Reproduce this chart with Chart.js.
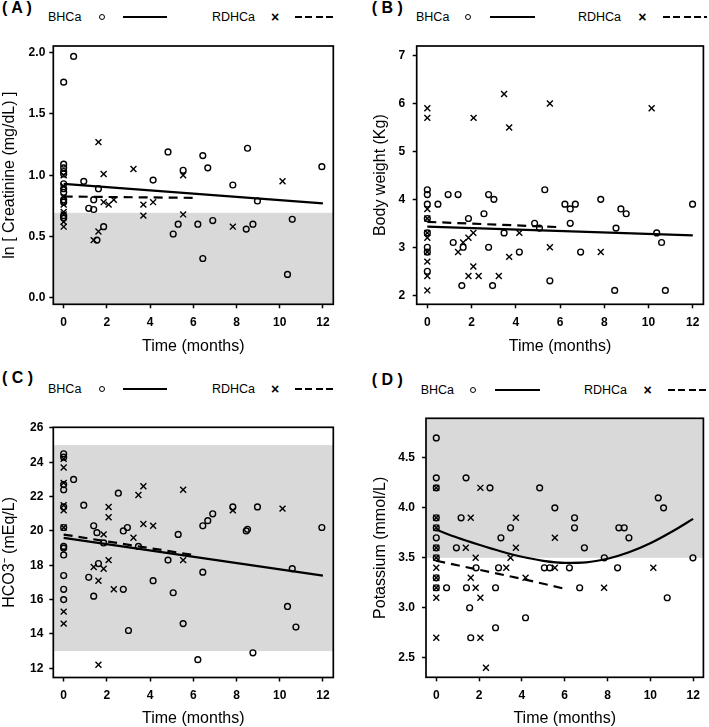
<!DOCTYPE html>
<html><head><meta charset="utf-8">
<script src="https://cdn.jsdelivr.net/npm/chart.js@4.4.0/dist/chart.umd.min.js"></script>
<style>
html,body{margin:0;padding:0;background:#fff;width:709px;height:727px;overflow:hidden;position:relative;font-family:"Liberation Sans",Arial,sans-serif;color:#000;}
canvas{position:absolute;}
.lab{position:absolute;font-weight:bold;font-size:16px;line-height:1;transform:translateY(-50%);white-space:pre;}
.lt{position:absolute;font-size:12.5px;line-height:1;transform:translateY(-50%);white-space:pre;}
.circ{position:absolute;width:4px;height:4px;border:1.6px solid #000;border-radius:50%;transform:translate(-50%,-50%);}
.cross{position:absolute;font-size:14px;font-weight:bold;line-height:1;transform:translate(-50%,-50%);}
.sl{position:absolute;height:2px;background:#000;transform:translateY(-50%);}
.dl{position:absolute;height:2px;transform:translateY(-50%);background:repeating-linear-gradient(90deg,#000 0 7px,transparent 7px 10.33px);}
</style></head><body>
<script>
// ---------- shared ----------
const xTicks = [0, 2, 4, 6, 8, 10, 12];

// ---------- Panel A : ln[Creatinine] ----------
const aYTicks = [0.0, 0.5, 1.0, 1.5, 2.0];
const aBhcaX = [0,0,0,0,0,0,0,0,0,0,0,0, 0.46,0.93,1.16,1.39,1.39,1.61,1.54,1.85,4.14,4.83,5.07,5.30,5.53,6.21,6.44,6.44,6.67,6.90,7.83,8.45,8.51,8.76,8.97,10.36,10.58,11.95];
const aBhcaY = [1.76,1.09,1.06,1.03,1.01,0.93,0.89,0.86,0.80,0.78,0.67,0.65, 1.97,0.95,0.73,0.72,0.80,0.89,0.47,0.58,0.96,1.19,0.52,0.60,1.04,0.60,1.16,0.32,1.06,0.63,0.92,0.56,1.22,0.60,0.79,0.19,0.64,1.07];
const aRdhcaX = [0,0,0,0,0,0,0,0, 1.61,1.85,3.23,5.53,10.13,1.85,2.08,2.32,3.69,4.14,3.69,5.53,7.83,1.39,1.61];
const aRdhcaY = [1.00,0.91,0.82,0.76,0.70,0.68,0.62,0.58, 1.27,1.01,1.05,1.00,0.95,0.78,0.76,0.80,0.76,0.78,0.67,0.68,0.58,0.47,0.54];
const aFitBhcaX = [0, 12];  const aFitBhcaY = [0.93, 0.77];
const aFitRdhcaX = [0, 6];  const aFitRdhcaY = [0.826, 0.815];
const aBand = [null, 0.693];

// ---------- Panel B : Body weight ----------
const bYTicks = [2, 3, 4, 5, 6, 7];
const bBhcaX = [0,0,0,0,0,0,0,0, 0.48,0.94,1.39,1.17,1.62,1.56,1.86,2.56,2.77,3.01,2.77,2.95,3.47,4.16,4.85,5.07,5.31,5.54,6.22,6.46,6.69,6.46,6.93,7.84,8.53,8.47,8.75,8.99,10.37,10.59,10.76,11.99];
const bBhcaY = [4.2,4.1,3.9,3.6,3.3,3.0,2.9,2.5, 3.9,4.1,4.1,3.1,3.0,2.2,3.6,3.7,4.1,4.0,3.0,2.2,3.3,2.9,3.5,3.4,4.2,2.3,3.9,3.8,3.9,3.5,2.9,4.0,3.4,2.1,3.8,3.7,3.3,3.1,2.1,3.9];
const bRdhcaX = [0,0,0,0,0,0,0,0,0,0, 2.09,3.47,3.70,5.54,10.14,1.39,1.62,1.86,2.08,1.86,2.08,2.32,3.23,3.70,4.16,5.54,7.84];
const bRdhcaY = [5.9,5.7,3.8,3.6,3.3,3.2,2.9,2.7,2.4,2.1, 5.7,6.2,5.5,6.0,5.9,2.9,3.1,3.2,3.3,2.4,2.6,2.4,2.4,2.8,3.3,3.0,2.9];
const bFitBhcaX = [0, 12];  const bFitBhcaY = [3.43, 3.25];
const bFitRdhcaX = [0, 6];  const bFitRdhcaY = [3.53, 3.42];
const bBand = null;

// ---------- Panel C : HCO3- ----------
const cYTicks = [12, 14, 16, 18, 20, 22, 24, 26];
const cBhcaX = [0,0,0,0,0,0,0,0,0,0,0,0, 0.46,0.93,1.16,1.39,1.39,1.54,1.61,1.85,2.53,2.76,2.76,2.95,3.00,3.46,4.14,4.83,5.07,5.30,5.53,6.21,6.44,6.44,6.67,6.90,7.83,8.45,8.51,8.76,8.97,10.36,10.58,10.75,11.95];
const cBhcaY = [24.5,24.3,22.7,22.4,21.4,20.2,19.1,19.0,18.6,17.4,16.6,16.0, 23.0,21.5,17.3,20.3,16.2,19.9,18.1,19.3,22.2,20.0,16.6,20.2,14.2,19.1,17.1,18.3,16.4,19.8,14.6,12.5,20.3,17.6,20.6,21.0,21.4,20.0,20.1,12.9,21.4,15.6,17.8,14.4,20.2];
const cRdhcaX = [0,0,0,0,0,0,0,0, 1.39,1.61,1.61,1.85,1.85,2.08,2.08,2.08,2.32,3.23,3.46,3.69,3.69,4.14,5.53,5.53,7.83,10.13];
const cRdhcaY = [24.2,23.7,22.8,21.5,21.2,20.2,15.3,14.6, 17.9,17.1,12.2,19.8,17.8,21.4,20.8,18.3,16.6,19.6,22.1,22.6,20.4,20.3,22.4,18.3,21.2,21.3];
const cFitBhcaX = [0, 12];  const cFitBhcaY = [19.6, 17.4];
const cFitRdhcaX = [0, 6];  const cFitRdhcaY = [19.79, 18.6];
const cBand = [13, 25];

// ---------- Panel D : Potassium ----------
const dYTicks = [2.5, 3.0, 3.5, 4.0, 4.5];
const dBhcaX = [0,0,0,0,0,0,0,0,0,0, 1.39,2.51,4.83,5.54,1.16,3.47,6.46,6.46,3.02,0.94,6.92,8.53,8.78,9.00,10.37,10.62,11.99,7.85,1.86,2.91,5.05,5.30,6.22,8.47,0.48,1.41,2.77,6.70,10.79,1.56,4.17,2.77,1.61];
const dBhcaY = [4.7,4.3,4.2,3.9,3.8,3.7,3.6,3.5,3.3,3.2, 4.3,4.2,4.2,4.0,3.9,3.8,3.9,3.8,3.7,3.6,3.6,3.8,3.8,3.7,4.1,4.0,3.5,3.5,3.4,3.4,3.4,3.4,3.4,3.4,3.2,3.2,3.2,3.2,3.1,3.0,2.9,2.8,2.7];
const dRdhcaX = [0,0,0,0,0,0,0,0,0,0, 2.06,1.61,3.72,5.54,1.38,3.72,1.84,3.47,3.27,5.54,10.14,1.61,4.17,1.84,7.84,2.06,2.06,2.32];
const dRdhcaY = [4.2,3.9,3.8,3.6,3.5,3.4,3.3,3.2,3.1,2.7, 4.2,3.9,3.9,3.7,3.6,3.6,3.5,3.5,3.4,3.4,3.4,3.3,3.3,3.2,3.2,3.1,2.7,2.4];
const dFitBhcaX = [0, 1, 2, 3, 4, 5, 6, 7, 8, 9, 10, 11, 12];
const dFitBhcaY = [3.78, 3.70, 3.63, 3.565, 3.51, 3.47, 3.45, 3.455, 3.49, 3.555, 3.645, 3.76, 3.89];
const dFitRdhcaX = [0, 2, 4, 6];
const dFitRdhcaY = [3.47, 3.38, 3.29, 3.19];
const dBand = [3.5, null];

// ---------- drawing ----------
const F = '"Liberation Sans", Arial, Helvetica, sans-serif';
const pts = (xs, ys) => xs.map((x, i) => ({x: x, y: ys[i]}));

const boxPlugin = {
  id: 'rbox',
  beforeDatasetsDraw(chart, args, opts) {
    const {ctx, chartArea: a, scales: {y}} = chart;
    if (!opts.band) return;
    const p1 = opts.band[0] == null ? a.bottom : y.getPixelForValue(opts.band[0]);
    const p2 = opts.band[1] == null ? a.top : y.getPixelForValue(opts.band[1]);
    const t = Math.max(a.top, Math.min(p1, p2));
    const b = Math.min(a.bottom, Math.max(p1, p2));
    ctx.save();
    ctx.fillStyle = '#d9d9d9';
    ctx.fillRect(a.left, t, a.right - a.left, b - t);
    ctx.restore();
  },
  afterDraw(chart) {
    const {ctx, chartArea: a} = chart;
    ctx.save();
    ctx.strokeStyle = '#000';
    ctx.lineWidth = 1.7;
    ctx.strokeRect(a.left, a.top, a.right - a.left, a.bottom - a.top);
    ctx.restore();
  }
};

function makePanel(p) {
  const cv = document.createElement('canvas');
  cv.width = p.cw; cv.height = p.ch;
  cv.style.left = p.cx + 'px'; cv.style.top = p.cy + 'px';
  cv.style.width = p.cw + 'px'; cv.style.height = p.ch + 'px';
  document.body.appendChild(cv);
  const TH = 9.6;
  const padL = Math.max(0, p.ytx - p.cx - TH);
  const padB = Math.max(0, p.cy + p.ch - p.xty - TH);
  const wy = p.area[0] - p.cx - padL;
  const padT = p.area[1] - p.cy;
  const padR = p.cx + p.cw - p.area[2];
  const hx = p.cy + p.ch - padB - p.area[3];
  const tickFont = {family: F, size: 12, weight: 'bold'};
  const grid = {display: true, drawOnChartArea: false, drawTicks: true, tickLength: 4, tickColor: '#000', tickWidth: 1.5, color: '#000'};
  new Chart(cv, {
    type: 'scatter',
    data: {datasets: [
      {label: 'BHCa', data: pts(p.bx, p.by), pointStyle: 'circle', pointRadius: 2.9, pointBorderWidth: 1.4,
       borderColor: '#000', backgroundColor: 'rgba(0,0,0,0)', pointBackgroundColor: 'rgba(0,0,0,0)', pointBorderColor: '#000'},
      {label: 'RDHCa', data: pts(p.rx, p.ry), pointStyle: 'crossRot', pointRadius: 4.2, pointBorderWidth: 1.4,
       borderColor: '#000', pointBorderColor: '#000'},
      {type: 'line', label: 'BHCa fit', data: pts(p.fbx, p.fby), borderColor: '#000', borderWidth: 2.2,
       pointRadius: 0, fill: false, tension: p.tension || 0, cubicInterpolationMode: p.tension ? 'monotone' : 'default'},
      {type: 'line', label: 'RDHCa fit', data: pts(p.frx, p.fry), borderColor: '#000', borderWidth: 2.2,
       borderDash: [9, 6], pointRadius: 0, fill: false, tension: 0}
    ]},
    options: {
      responsive: false, animation: false, devicePixelRatio: 1,
      layout: {padding: {left: padL, right: padR, top: padT, bottom: padB}},
      plugins: {legend: {display: false}, tooltip: {enabled: false}, rbox: {band: p.band}},
      scales: {
        x: {type: 'linear', min: -0.48, max: 12.48,
            afterFit(s) { s.height = hx; },
            afterBuildTicks(s) { s.ticks = xTicks.map(v => ({value: v})); },
            ticks: {font: tickFont, color: '#000', padding: 7, maxRotation: 0, autoSkip: false},
            grid: grid, border: {display: false},
            title: {display: true, text: 'Time (months)', color: '#000', padding: 0, font: {family: F, size: 16}}},
        y: {type: 'linear', min: p.ymin, max: p.ymax,
            afterFit(s) { s.width = wy; },
            afterBuildTicks(s) { s.ticks = p.yTicks.map(v => ({value: v})); },
            ticks: {font: tickFont, color: '#000', padding: p.tickPad, autoSkip: false,
                    callback: v => Number(v).toFixed(p.dec)},
            grid: grid, border: {display: false},
            title: {display: true, text: p.ytitle, color: '#000', padding: 0, font: {family: F, size: 16}}}
      }
    },
    plugins: [boxPlugin]
  });
}

function el(cls, css, text) {
  const d = document.createElement('div');
  d.className = cls;
  Object.assign(d.style, css);
  if (text) d.textContent = text;
  document.body.appendChild(d);
}

function legend(L) {
  el('lab', {left: L.lx + 'px', top: L.ly + 'px'}, L.label);
  el('lt', {left: L.t1 + 'px', top: L.y + 'px'}, 'BHCa');
  el('circ', {left: L.c + 'px', top: L.y + 'px'});
  el('sl', {left: L.s1 + 'px', top: L.y + 'px', width: (L.s2 - L.s1) + 'px'});
  el('lt', {left: L.t2 + 'px', top: L.y + 'px'}, 'RDHCa');
  el('cross', {left: L.x + 'px', top: (L.y) + 'px'}, '\u00D7');
  el('dl', {left: L.d1 + 'px', top: L.y + 'px', width: (L.d2 - L.d1) + 'px'});
}

makePanel({cx: 0, cy: 30, cw: 345, ch: 330, area: [53.3, 46, 333.3, 304.3], ytx: 9.6, xty: 346.7,
  ymin: -0.054, ymax: 2.055, yTicks: aYTicks, dec: 1, tickPad: 4, ytitle: 'ln [ Creatinine (mg/dL) ]',
  bx: aBhcaX, by: aBhcaY, rx: aRdhcaX, ry: aRdhcaY, fbx: aFitBhcaX, fby: aFitBhcaY, frx: aFitRdhcaX, fry: aFitRdhcaY, band: aBand});
makePanel({cx: 360, cy: 30, cw: 349, ch: 330, area: [416.7, 46, 706.7, 304.3], ytx: 381, xty: 346.7,
  ymin: 1.81, ymax: 7.2, yTicks: bYTicks, dec: 0, tickPad: 7.5, ytitle: 'Body weight (Kg)',
  bx: bBhcaX, by: bBhcaY, rx: bRdhcaX, ry: bRdhcaY, fbx: bFitBhcaX, fby: bFitBhcaY, frx: bFitRdhcaX, fry: bFitRdhcaY, band: bBand});
makePanel({cx: 0, cy: 400, cw: 345, ch: 330, area: [53.3, 427.3, 333.3, 677.5], ytx: 9.6, xty: 718.3,
  ymin: 11.46, ymax: 26.04, yTicks: cYTicks, dec: 0, tickPad: 6, ytitle: 'HCO3\u207B (mEq/L)',
  bx: cBhcaX, by: cBhcaY, rx: cRdhcaX, ry: cRdhcaY, fbx: cFitBhcaX, fby: cFitBhcaY, frx: cFitRdhcaX, fry: cFitRdhcaY, band: cBand});
makePanel({cx: 360, cy: 400, cw: 349, ch: 330, area: [426, 418.3, 706.7, 677.3], ytx: 381, xty: 718.3,
  ymin: 2.304, ymax: 4.896, yTicks: dYTicks, dec: 1, tickPad: 7, ytitle: 'Potassium (mmol/L)', tension: 0.4,
  bx: dBhcaX, by: dBhcaY, rx: dRdhcaX, ry: dRdhcaY, fbx: dFitBhcaX, fby: dFitBhcaY, frx: dFitRdhcaX, fry: dFitRdhcaY, band: dBand});

legend({label: '( A )', lx: 2, ly: 8, y: 16.7, t1: 48, c: 102, s1: 122.7, s2: 166.7, t2: 212, x: 275, d1: 295, d2: 333});
legend({label: '( B )', lx: 371.7, ly: 8.3, y: 16.7, t1: 416, c: 467.7, s1: 490, s2: 535, t2: 578, x: 642.3, d1: 663, d2: 707});
legend({label: '( C )', lx: 2, ly: 378, y: 389.3, t1: 48, c: 102, s1: 122.7, s2: 166.7, t2: 212, x: 275, d1: 295, d2: 333});
legend({label: '( D )', lx: 371.7, ly: 380, y: 390, t1: 420.7, c: 473.3, s1: 495, s2: 540, t2: 584, x: 647.7, d1: 668, d2: 708});
</script>
</body></html>
